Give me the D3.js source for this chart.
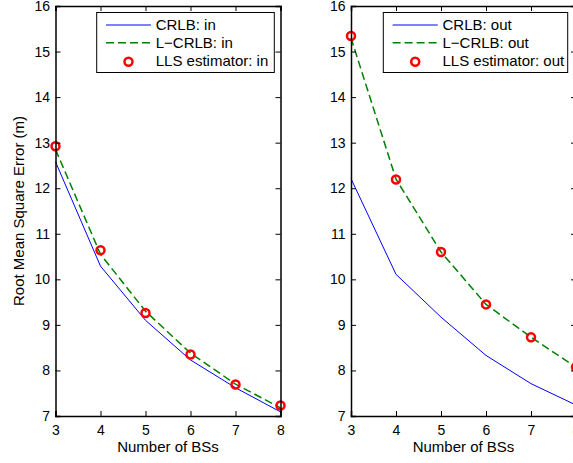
<!DOCTYPE html>
<html>
<head>
<meta charset="utf-8">
<script src="https://cdn.jsdelivr.net/npm/d3@7"></script>
<style>
  body { margin: 0; background: #fff; overflow: hidden; }
  svg { display: block; font-family: "Liberation Sans", Arial, sans-serif; }
</style>
</head>
<body>
<div id="chart"></div>
<script>
// Number of base stations on the x axis
const numBS = [3, 4, 5, 6, 7, 8];

// Left panel: "in"
const crlbIn = [12.58, 10.29, 9.10, 8.23, 7.62, 7.09];
const lcrlbIn = [12.85, 10.55, 9.30, 8.38, 7.70, 7.18];
const llsIn = [12.92, 10.64, 9.26, 8.35, 7.69, 7.23];

// Right panel: "out"
const crlbOut = [12.21, 10.11, 9.17, 8.33, 7.71, 7.24];
const lcrlbOut = [15.30, 12.20, 10.60, 9.45, 8.73, 8.07];
const llsOut = [15.34, 12.19, 10.60, 9.45, 8.73, 8.07];

const yTicks = [7, 8, 9, 10, 11, 12, 13, 14, 15, 16];
const xTicks = [3, 4, 5, 6, 7, 8];

const width = 573, height = 463;

const svg = d3.select("#chart").append("svg")
    .attr("width", width)
    .attr("height", height);

// draw one panel
function drawPanel(left, crlb, lcrlb, lls, tag, showYLabel) {
    const plotW = 225, top = 6, bottom = 416;

    const x = d3.scaleLinear().domain([3, 8]).range([left, left + plotW]);
    const y = d3.scaleLinear().domain([7, 16]).range([bottom, top]);

    const g = svg.append("g");

    // data lines
    const line = d3.line()
        .x((d, i) => x(numBS[i]))
        .y(d => y(d));

    g.append("path")
        .datum(crlb)
        .attr("d", line)
        .attr("fill", "none")
        .attr("stroke", "#0000ff")
        .attr("stroke-width", 1);

    g.append("path")
        .datum(lcrlb)
        .attr("d", line)
        .attr("fill", "none")
        .attr("stroke", "#008000")
        .attr("stroke-width", 1.5)
        .attr("stroke-dasharray", "8,4");

    g.selectAll(".pt")
        .data(lls)
      .enter().append("circle")
        .attr("class", "pt")
        .attr("cx", (d, i) => x(numBS[i]))
        .attr("cy", d => y(d))
        .attr("r", 4)
        .attr("fill", "none")
        .attr("stroke", "#ff0000")
        .attr("stroke-width", 2.5);

    // axes (ticks inward, box style)
    const axB = g.append("g")
        .attr("transform", `translate(0,${bottom})`)
        .call(d3.axisBottom(x).tickValues(xTicks).tickSize(-5).tickPadding(9).tickFormat(d3.format("d")));
    const axL = g.append("g")
        .attr("transform", `translate(${left},0)`)
        .call(d3.axisLeft(y).tickValues(yTicks).tickSize(-5).tickPadding(5.5).tickFormat(d3.format("d")));
    const axT = g.append("g")
        .attr("transform", `translate(0,${top})`)
        .call(d3.axisTop(x).tickValues(xTicks).tickSize(-5).tickFormat(""));
    const axR = g.append("g")
        .attr("transform", `translate(${left + plotW},0)`)
        .call(d3.axisRight(y).tickValues(yTicks).tickSize(-5).tickFormat(""));

    [axB, axL, axT, axR].forEach(a => {
        a.select(".domain").attr("stroke", "#000").attr("stroke-width", 1.5);
        a.selectAll(".tick line").attr("stroke", "#000").attr("stroke-width", 1);
        a.selectAll(".tick text")
            .attr("fill", "#000")
            .style("font-size", "14px")
            .style("font-family", "'Liberation Sans', Arial, sans-serif");
    });

    // x label
    g.append("text")
        .attr("x", left + plotW / 2)
        .attr("y", 451.5)
        .attr("text-anchor", "middle")
        .style("font-size", "15px")
        .text("Number of BSs");

    if (showYLabel) {
        g.append("text")
            .attr("transform", `translate(24,${(top + bottom) / 2}) rotate(-90)`)
            .attr("text-anchor", "middle")
            .style("font-size", "15px")
            .text("Root Mean Square Error (m)");
    }

    // legend
    const boxX = tag === "in" ? 96.7 : 383.3;
    const boxW = tag === "in" ? 177.6 : 184.4;
    const lx0 = 9.3, lx1 = tag === "in" ? 54.3 : 54.5, tx = lx1 + 4.7;
    const leg = g.append("g").attr("transform", `translate(${boxX},12.5)`);
    leg.append("rect")
        .attr("width", boxW)
        .attr("height", 60)
        .attr("fill", "#fff")
        .attr("stroke", "#000")
        .attr("stroke-width", 1);

    leg.append("line")
        .attr("x1", lx0).attr("x2", lx1).attr("y1", 12.5).attr("y2", 12.5)
        .attr("stroke", "#0000ff").attr("stroke-width", 1);
    leg.append("line")
        .attr("x1", lx0).attr("x2", lx1).attr("y1", 30.2).attr("y2", 30.2)
        .attr("stroke", "#008000").attr("stroke-width", 1.5)
        .attr("stroke-dasharray", "8,4");
    leg.append("circle")
        .attr("cx", (lx0 + lx1) / 2).attr("cy", 49.2).attr("r", 4)
        .attr("fill", "none").attr("stroke", "#ff0000").attr("stroke-width", 2.5);

    const labels = ["CRLB: " + tag, "L\u2212CRLB: " + tag, "LLS estimator: " + tag];
    leg.selectAll(".lt")
        .data(labels)
      .enter().append("text")
        .attr("class", "lt")
        .attr("x", tx)
        .attr("y", (d, i) => 17.5 + i * 18)
        .style("font-size", "15px")
        .text(d => d);
}

drawPanel(55.5, crlbIn, lcrlbIn, llsIn, "in", true);
drawPanel(351, crlbOut, lcrlbOut, llsOut, "out", false);
</script>
</body>
</html>
